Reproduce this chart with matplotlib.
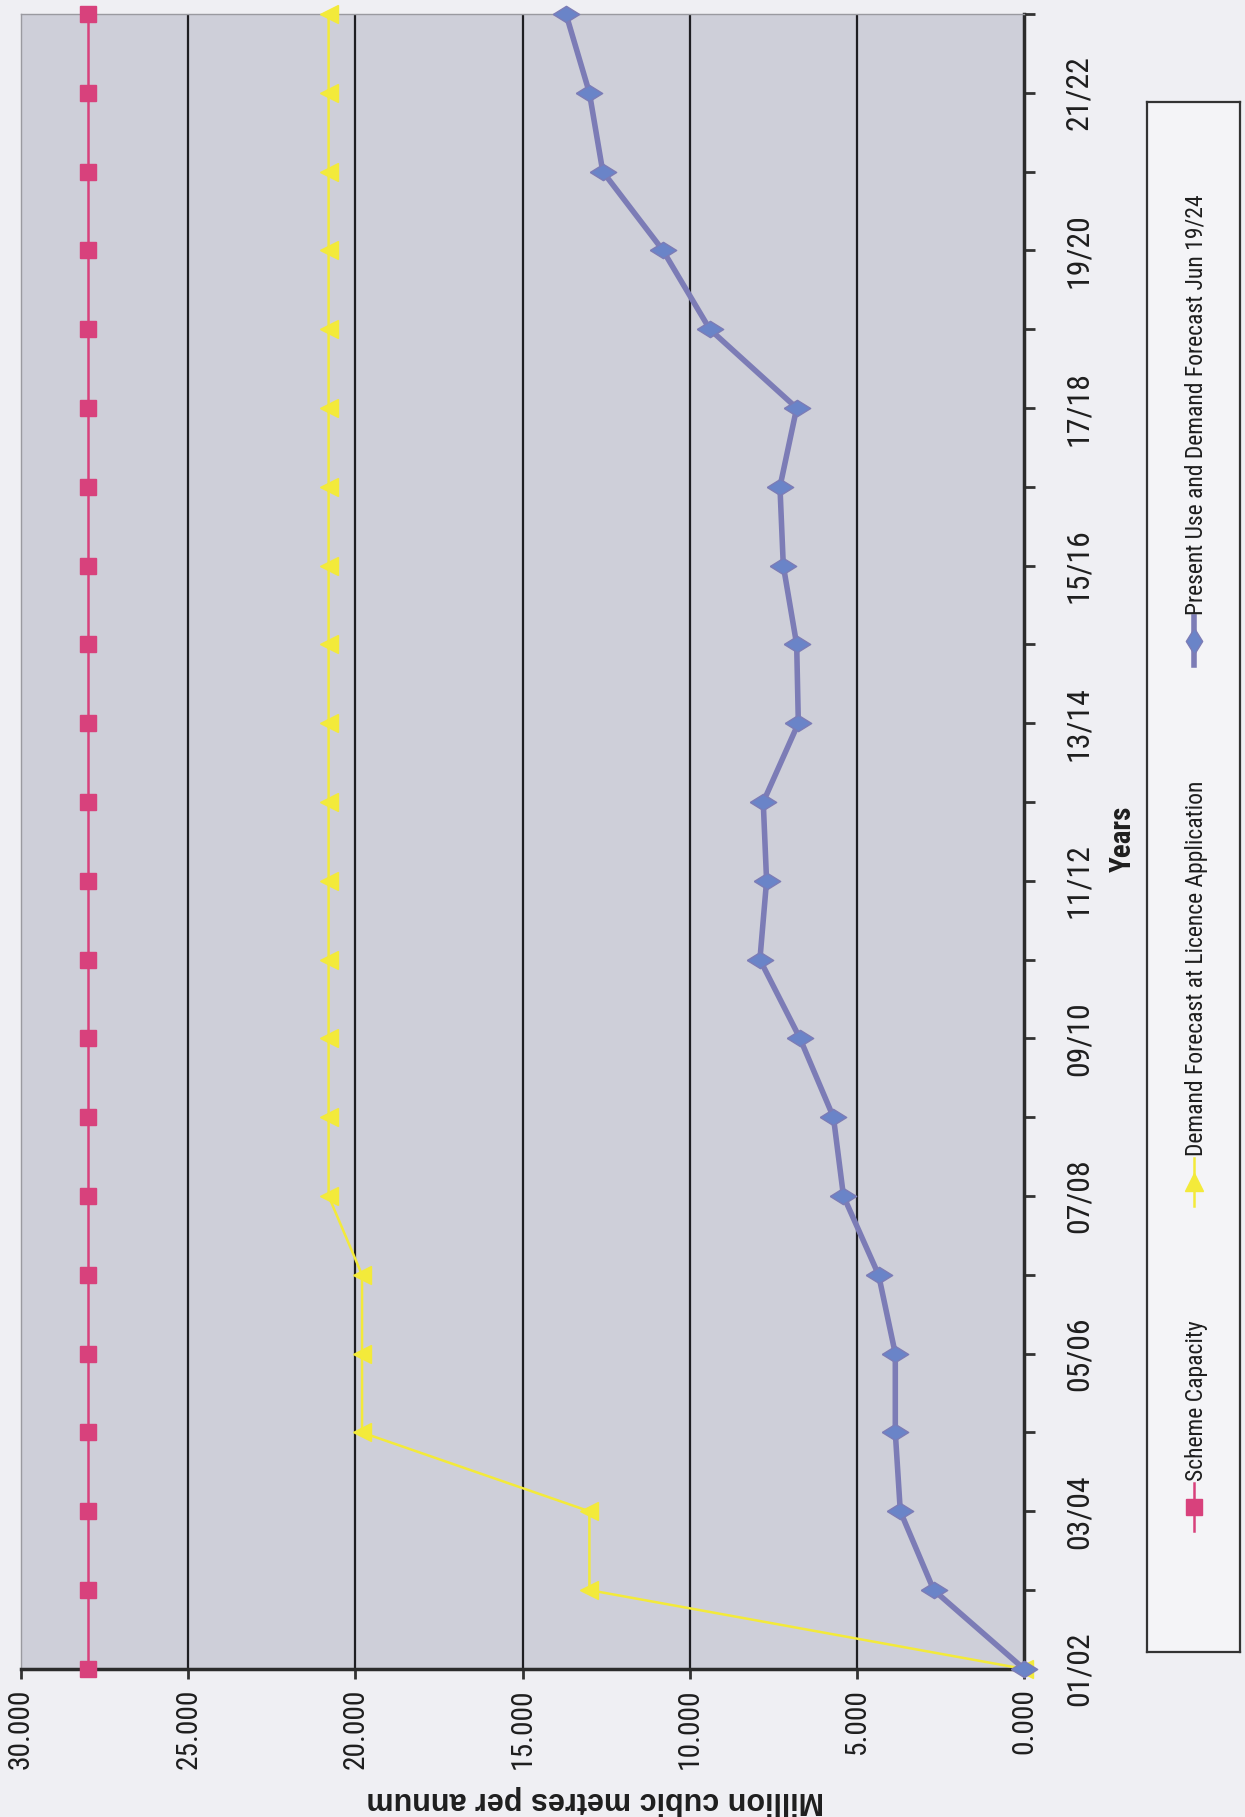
import matplotlib
matplotlib.use('Agg')
import matplotlib.pyplot as plt
from matplotlib import font_manager as fm
from matplotlib.lines import Line2D

years = ['01/02', '02/03', '03/04', '04/05', '05/06', '06/07', '07/08', '08/09',
         '09/10', '10/11', '11/12', '12/13', '13/14', '14/15', '15/16', '16/17',
         '17/18', '18/19', '19/20', '20/21', '21/22', '22/23']
scheme_capacity = [28.0] * 22
licence_forecast = [0.0, 13.0, 13.0, 19.8, 19.8, 19.8, 20.8, 20.8, 20.8, 20.8, 20.8,
                    20.8, 20.8, 20.8, 20.8, 20.8, 20.8, 20.8, 20.8, 20.8, 20.8, 20.8]
present_use = [0.0, 2.7, 3.7, 3.85, 3.85, 4.35, 5.4, 5.7, 6.7, 7.9, 7.7,
               7.8, 6.75, 6.8, 7.2, 7.3, 6.8, 9.4, 10.8, 12.6, 13.0, 13.7]
value_ticks = [0, 5, 10, 15, 20, 25, 30]
series_names = ['Scheme Capacity', 'Demand Forecast at Licence Application',
                'Present Use and Demand Forecast Jun 19/24']

PINK = '#d8417c'
YELLOW = '#f3ea3a'
PURPLE = '#7c7cb6'
DIAMOND = '#6a84c8'
TXT = '#1e1e1e'

# the scan uses a narrow Arial; take the narrowest sans that is installed
avail = [(f.name, f.stretch) for f in fm.fontManager.ttflist]
names = {n for n, s in avail}
if 'Liberation Sans Narrow' in names:
    narrow = dict(family='Liberation Sans Narrow')
elif 'Roboto Condensed' in names:
    narrow = dict(family='Roboto Condensed')
elif any(n == 'DejaVu Sans' and s in ('condensed', 'semi-condensed') for n, s in avail):
    narrow = dict(family='DejaVu Sans', stretch='condensed')
else:
    narrow = dict(family='Roboto')

fig = plt.figure(figsize=(12.45, 18.17), dpi=100, facecolor='#efeff3')

# sizes below are for Arial Narrow; scale them to the font actually found
probe = fig.text(0, 0, '0000000000', fontsize=100, **narrow)
digit_w = probe.get_window_extent(renderer=fig.canvas.get_renderer()).width / (10 * 100 * 100 / 72)
probe.remove()
k = 0.456 / digit_w

ax = fig.add_axes([0.0169, 0.0815, 0.8056, 0.9108])
ax.set_facecolor('#cecfd9')

diamond = [(-1, 0), (0, 0.62), (1, 0), (0, -0.62), (-1, 0)]
pos = list(range(len(years)))
ax.plot(scheme_capacity, pos, color=PINK, lw=1.8, marker='s', ms=12,
        mfc=PINK, mec=PINK, clip_on=False, zorder=4)
ax.plot(licence_forecast, pos, color=YELLOW, lw=1.8, marker='<', ms=13,
        mfc=YELLOW, mec=YELLOW, clip_on=False, zorder=4)
ax.plot(present_use, pos, color=PURPLE, lw=4, marker=diamond, ms=19,
        mfc=DIAMOND, mec=PURPLE, mew=1, clip_on=False, zorder=5)

ax.set_xlim(30, 0)
ax.set_ylim(0, len(years) - 1)

ax.set_xticks(value_ticks)
ax.set_xticklabels(['%.3f' % v for v in value_ticks], rotation=90,
                   fontsize=23 * k, color=TXT, **narrow)
for v in value_ticks[1:-1]:
    ax.axvline(v, color='#1e1e22', lw=1.6, zorder=2)

ax.yaxis.tick_right()
ax.set_yticks(pos)
ax.set_yticklabels([y if i % 2 == 0 else '' for i, y in enumerate(years)],
                   rotation=90, fontsize=24.8 * k, color=TXT, **narrow)
for lab in ax.get_yticklabels():
    lab.set_va('center')

ax.tick_params(axis='x', direction='out', length=7, width=2, color='#333333', pad=7)
ax.tick_params(axis='y', direction='out', length=8, width=2, color='#333333', pad=21)

for side in ['bottom', 'right']:
    ax.spines[side].set_color('#2b2b2b')
    ax.spines[side].set_linewidth(2.5)
for side in ['top', 'left']:
    ax.spines[side].set_color('#9a9aa0')
    ax.spines[side].set_linewidth(1.0)

fig.text(0.9015, 0.5385, 'Years', rotation=90, ha='center', va='center',
         fontsize=22.7 * k, fontweight='bold', color=TXT, **narrow)
fig.text(0.478, 0.0094, 'Million cubic metres per annum', rotation=180,
         ha='center', va='center', family='Liberation Sans',
         fontsize=22, fontweight='bold', color=TXT)

# legend drawn by hand, since it is turned on its side
lg = fig.add_axes([0.9213, 0.0908, 0.0747, 0.8531])
lg.set_facecolor('#f4f4f7')
lg.set_xlim(0, 1)
lg.set_ylim(1652, 102)
lg.set_xticks([])
lg.set_yticks([])
for s in lg.spines.values():
    s.set_color('#333333')
    s.set_linewidth(1.6)

legend_spots = [1507, 1182, 641]
line_styles = [dict(color=PINK, lw=1.8), dict(color=YELLOW, lw=1.8), dict(color=PURPLE, lw=4)]
mark_styles = [dict(marker='s', ms=12, mfc=PINK, mec=PINK),
               dict(marker='^', ms=13, mfc=YELLOW, mec=YELLOW),
               dict(marker=[(0, -1), (0.62, 0), (0, 1), (-0.62, 0), (0, -1)],
                    ms=19, mfc=DIAMOND, mec=PURPLE)]
for name, y0, ls_, ms_ in zip(series_names, legend_spots, line_styles, mark_styles):
    lg.add_line(Line2D([0.5, 0.5], [y0 + 24, y0 - 24], **ls_))
    lg.plot([0.5], [y0], ls='none', **ms_)
    lg.text(0.53, y0 - 26, name, rotation=90, ha='center', va='bottom',
            fontsize=18.4 * k, color=TXT, **narrow)

fig.savefig('out.png', dpi=100, facecolor=fig.get_facecolor())
